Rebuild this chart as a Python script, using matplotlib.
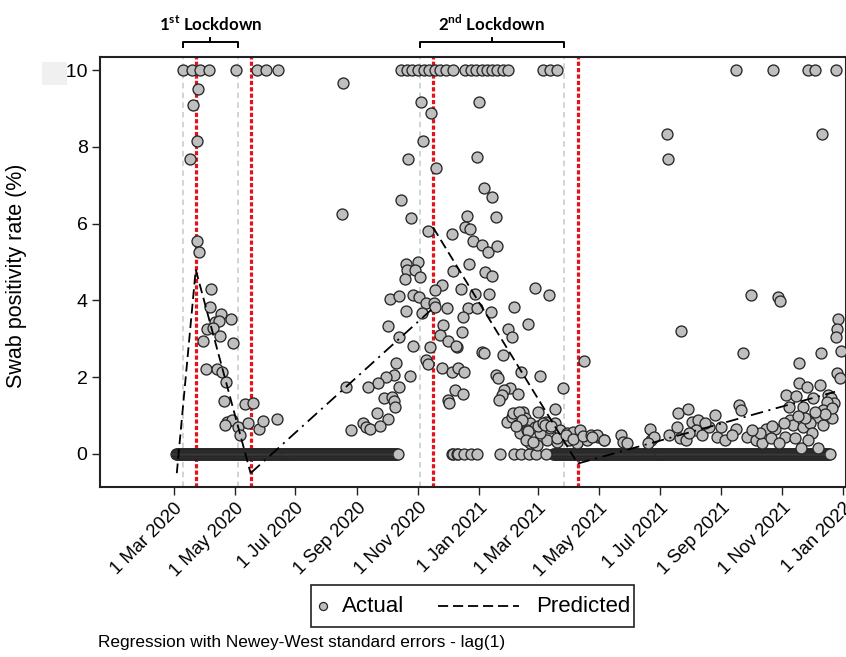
import numpy as np
import pandas as pd
import matplotlib
matplotlib.use("Agg")
import matplotlib.pyplot as plt
from matplotlib.transforms import blended_transform_factory
from matplotlib.lines import Line2D
from matplotlib.patches import Rectangle

plt.rcParams['font.family'] = ['Liberation Sans', 'DejaVu Sans']
plt.rcParams['mathtext.fontset'] = 'custom'
plt.rcParams['mathtext.rm'] = 'Lato'
plt.rcParams['mathtext.bf'] = 'Lato:bold'
plt.rcParams['lines.scale_dashes'] = False

BASE = pd.Timestamp('2020-03-01')   # day numbers below are days since 1 Mar 2020

# ---------------- data ----------------
# values >= 10 are shown at 10
top_days = [9, 18, 26, 35, 62, 83, 92, 104, 228, 234, 239, 245, 251, 256, 262, 267,
            273, 280, 292, 298, 303, 309, 314, 319, 324, 330, 335, 370, 377, 384,
            564, 601, 636, 643, 664]

wave1_days = [24, 19, 23, 16, 23, 25, 37, 36, 47, 41, 45, 57, 33, 39, 46, 29, 59, 32,
              43, 48, 52, 50, 71, 79, 53, 58, 51, 64, 66, 74, 85, 89, 103]
wave1_values = [9.5, 9.1, 8.16, 7.69, 5.55, 5.27, 4.31, 3.82, 3.64, 3.45, 3.46, 3.51,
                3.25, 3.27, 3.07, 2.94, 2.88, 2.22, 2.22, 2.14, 1.88, 1.38, 1.29, 1.32,
                0.84, 0.89, 0.76, 0.71, 0.49, 0.80, 0.64, 0.87, 0.90]

wave2_days = [170, 169, 248, 258, 250, 235, 263, 228, 238, 255, 279, 233, 245, 234, 242,
              232, 247, 280, 269, 262, 217, 226, 240, 246, 253, 261, 274, 233, 249, 262,
              270, 215, 226, 267, 275, 240, 257, 284, 253, 255, 269, 279, 223, 237, 221,
              213, 205, 195, 173, 226, 211, 219, 221, 222, 275, 276, 204, 215, 190, 193,
              197, 207, 178]
wave2_values = [9.65, 6.25, 9.18, 8.89, 8.16, 7.69, 7.44, 6.61, 6.14, 5.82, 5.72, 4.95,
                5.01, 4.79, 4.79, 4.55, 4.60, 4.77, 4.40, 4.27, 4.03, 4.11, 4.14, 4.08,
                3.94, 3.92, 3.79, 3.73, 3.68, 3.84, 3.36, 3.33, 3.06, 3.10, 2.94, 2.81,
                2.78, 2.79, 2.45, 2.34, 2.23, 2.14, 2.38, 2.03, 2.06, 2.01, 1.86, 1.74,
                1.74, 1.75, 1.45, 1.49, 1.39, 1.23, 1.41, 1.32, 1.08, 0.90, 0.80, 0.71,
                0.64, 0.73, 0.63]

wave3_days = [306, 304, 311, 319, 294, 323, 292, 297, 300, 309, 315, 324, 296, 312, 319,
              288, 302, 316, 362, 376, 295, 304, 290, 318, 341, 289, 283, 355, 335, 339,
              309, 311, 330, 285, 291, 348, 367, 323, 325, 390, 411, 282, 290, 337, 331,
              329, 326, 345, 382, 365, 350, 334, 339, 344, 352, 357, 347, 354, 362, 368,
              373, 377, 382, 387, 394, 400, 407, 357, 364, 374, 384, 396, 404, 414, 367,
              340, 346, 349, 343, 355, 365, 370, 372, 378, 353, 360, 384, 393, 400, 410,
              418, 425, 431, 448, 450, 454, 477, 478, 481]
wave3_values = [9.16, 7.73, 6.94, 6.70, 6.20, 6.16, 5.90, 5.85, 5.55, 5.44, 5.25, 5.42,
                4.95, 4.75, 4.64, 4.31, 4.17, 4.18, 4.33, 4.14, 3.79, 3.79, 3.58, 3.69,
                3.82, 3.19, 2.81, 3.38, 3.25, 3.06, 2.66, 2.64, 2.58, 2.23, 2.13, 2.13,
                2.03, 2.07, 1.97, 1.71, 2.43, 1.67, 1.55, 1.73, 1.67, 1.54, 1.41, 1.55,
                1.16, 1.10, 1.10, 0.84, 0.97, 0.76, 0.93, 0.80, 0.54, 0.63, 0.71, 0.76,
                0.84, 0.67, 0.80, 0.63, 0.54, 0.58, 0.63, 0.28, 0.23, 0.36, 0.32, 0.36,
                0.28, 0.36, 0.54, 1.06, 1.10, 0.89, 0.72, 0.59, 0.72, 0.80, 0.76, 0.72,
                0.36, 0.32, 0.41, 0.50, 0.38, 0.46, 0.50, 0.45, 0.36, 0.49, 0.32, 0.28,
                0.64, 0.36, 0.45]

wave4_days = [495, 496, 650, 579, 606, 608, 509, 571, 666, 665, 664, 669, 649, 627, 665,
              668, 627, 635, 648, 614, 624, 641, 656, 659, 662, 655, 617, 631, 651, 645,
              660, 567, 569, 506, 516, 543, 594, 603, 618, 621, 631, 638, 640, 651, 613,
              623, 636, 629, 646, 475, 424, 431, 419, 497, 505, 508, 514, 520, 526, 524,
              530, 537, 545, 549, 553, 564, 575, 584, 590, 599, 607, 660, 653, 643, 633,
              626, 612, 600, 588, 580, 560, 533, 517]
wave4_values = [8.33, 7.68, 8.33, 4.14, 4.08, 3.99, 3.21, 2.62, 3.51, 3.25, 3.04, 2.69,
                2.62, 2.36, 2.10, 1.97, 1.86, 1.74, 1.80, 1.54, 1.51, 1.45, 1.54, 1.45,
                1.32, 1.36, 1.22, 1.22, 1.15, 0.97, 0.93, 1.28, 1.15, 1.06, 1.16, 1.02,
                0.64, 0.64, 0.89, 0.76, 0.71, 0.80, 0.54, 0.76, 0.45, 0.41, 0.36, 0.15,
                0.15, 0.28, 0.49, 0.36, 0.45, 0.49, 0.71, 0.41, 0.36, 0.84, 0.89, 0.63,
                0.49, 0.71, 0.45, 0.71, 0.36, 0.64, 0.45, 0.36, 0.28, 0.41, 0.28, 1.20,
                1.05, 1.10, 0.95, 1.00, 0.80, 0.72, 0.55, 0.62, 0.50, 0.80, 0.55]

# days with a rate of exactly 0: (first day, last day) runs, plus single days
zero_runs = [(2, 225), (380, 658)]
zero_single_days = [279, 280, 284, 285, 291, 298, 304, 327, 341, 348, 356, 363, 373]

# predicted (segmented regression) line: segment end points
pred_seg_days = [[3, 22], [22, 77], [77, 260], [260, 405], [405, 663]]
pred_seg_values = [[-0.5, 4.8], [4.8, -0.5], [-0.5, 3.8], [5.9, -0.25], [-0.25, 1.62]]
pred_seg_styles = ['dash', 'dash', 'dashdot', 'dash', 'dashdot']

# lockdown markers
lockdown_gray_days = [9, 64, 247, 391]
lockdown_red_days = [22, 77, 260, 405]
lockdown_labels = [r'1$^{\mathbf{st}}$ Lockdown', r'2$^{\mathbf{nd}}$ Lockdown']
lockdown_spans = [(9, 64), (247, 391)]

tick_dates = ['2020-03-01', '2020-05-01', '2020-07-01', '2020-09-01', '2020-11-01',
              '2021-01-01', '2021-03-01', '2021-05-01', '2021-07-01', '2021-09-01',
              '2021-11-01', '2022-01-01']
tick_labels = ['1 Mar 2020', '1 May 2020', '1 Jul 2020', '1 Sep 2020', '1 Nov 2020',
               '1 Jan 2021', '1 Mar 2021', '1 May 2021', '1 Jul 2021', '1 Sep 2021',
               '1 Nov 2021', '1 Jan 2022']
y_ticks = [0, 2, 4, 6, 8, 10]
y_tick_labels = ['0', '2', '4', '6', '8', '\u226510']
legend_labels = ['Actual', 'Predicted']

# ---------------- assemble ----------------
def to_dates(days):
    return BASE + pd.to_timedelta(np.asarray(days, dtype=float), unit='D')

zero_days = []
for a, b in zero_runs:
    zero_days.extend(range(a, b + 1))
zero_days.extend(zero_single_days)

all_days = (list(zero_days) + top_days + wave1_days + wave2_days + wave3_days + wave4_days)
all_values = ([0.0] * len(zero_days) + [10.0] * len(top_days) + wave1_values +
              wave2_values + wave3_values + wave4_values)

W, H = 846, 657
fig = plt.figure(figsize=(W / 100, H / 100), dpi=100)
ax = fig.add_axes([100 / W, 1 - 487 / H, 746 / W, 430 / H])

def fx(px):
    return px / W

def fy(py):
    return 1 - py / H

# light box behind the >=10 label
fig.patches.append(Rectangle((fx(42), fy(85)), 25 / W, 23 / H,
                             transform=fig.transFigure, facecolor='#f0f0f0',
                             edgecolor='none', zorder=0))

for d in lockdown_gray_days:
    ax.axvline(to_dates([d])[0], color='#c8c8c8', lw=1.1, dashes=(4, 3), zorder=1)
for d in lockdown_red_days:
    ax.axvline(to_dates([d])[0], color='#e3121b', lw=2.3, dashes=(3, 1.6), zorder=1)

ax.plot(to_dates(all_days), all_values, linestyle='none', marker='o', markersize=7.9,
        markerfacecolor='#bfbfbf', markeredgecolor='#262626', markeredgewidth=0.95,
        zorder=3)

style_map = {'dash': (7, 3.5), 'dashdot': (9, 4, 1.5, 4)}
for dd, vv, st in zip(pred_seg_days, pred_seg_values, pred_seg_styles):
    ax.plot(to_dates(dd), vv, color='black', lw=1.3, dashes=style_map[st], zorder=4)

ax.set_xlim(to_dates([-74])[0], to_dates([674])[0])
ax.set_ylim(-0.86, 10.34)
ax.set_xticks(pd.to_datetime(tick_dates))
ax.set_xticklabels(tick_labels, rotation=45, ha='right', rotation_mode='anchor',
                   fontsize=13.3)
ax.set_yticks(y_ticks)
ax.set_yticklabels(y_tick_labels, fontsize=14)
ax.tick_params(axis='both', direction='out', length=6, width=1.0, color='#222222')
ax.tick_params(axis='y', pad=3)
ax.tick_params(axis='x', pad=3)
for sp in ax.spines.values():
    sp.set_linewidth(1.5)
    sp.set_color('#222222')

ax.set_ylabel('Swab positivity rate (%)', fontsize=15.5)
ax.yaxis.set_label_coords(-0.098, 0.49)

# lockdown brackets above the plot
tr = blended_transform_factory(ax.transData, fig.transFigure)
for (a, b), lab in zip(lockdown_spans, lockdown_labels):
    xa, xb = to_dates([a])[0], to_dates([b])[0]
    xm = to_dates([(a + b) / 2])[0]
    yb, ye, yc = fy(42), fy(47), fy(38)
    ax.plot([xa, xa, xb, xb], [ye, yb, yb, ye], color='black', lw=1.4,
            transform=tr, clip_on=False)
    ax.plot([xm, xm], [yb, yc], color='black', lw=1.4, transform=tr, clip_on=False)
    ax.text(xm, fy(24), lab, transform=tr, ha='center', va='center',
            fontsize=12.2, fontweight='bold', family='Lato')

# legend box (drawn in figure pixels to match the reference layout)
fig.patches.append(Rectangle((fx(311), fy(627)), 323 / W, 42 / H,
                             transform=fig.transFigure, facecolor='white',
                             edgecolor='#222222', linewidth=1.2, zorder=5))
fig.add_artist(Line2D([fx(323)], [fy(606)], linestyle='none', marker='o',
                      markersize=5.8, markerfacecolor='#bfbfbf',
                      markeredgecolor='#262626', markeredgewidth=0.9,
                      transform=fig.transFigure, zorder=6))
fig.text(fx(342), fy(606), legend_labels[0], fontsize=16, ha='left', va='center',
         zorder=6)
fig.add_artist(Line2D([fx(438), fx(519)], [fy(606), fy(606)], color='black', lw=1.3,
                      dashes=(7.3, 3.5), transform=fig.transFigure, zorder=6))
fig.text(fx(536), fy(606), legend_labels[1], fontsize=16, ha='left', va='center',
         zorder=6)

fig.text(fx(98), fy(642), 'Regression with Newey-West standard errors - lag(1)',
         fontsize=12.4, ha='left', va='center')

fig.savefig('out.png', dpi=100)
